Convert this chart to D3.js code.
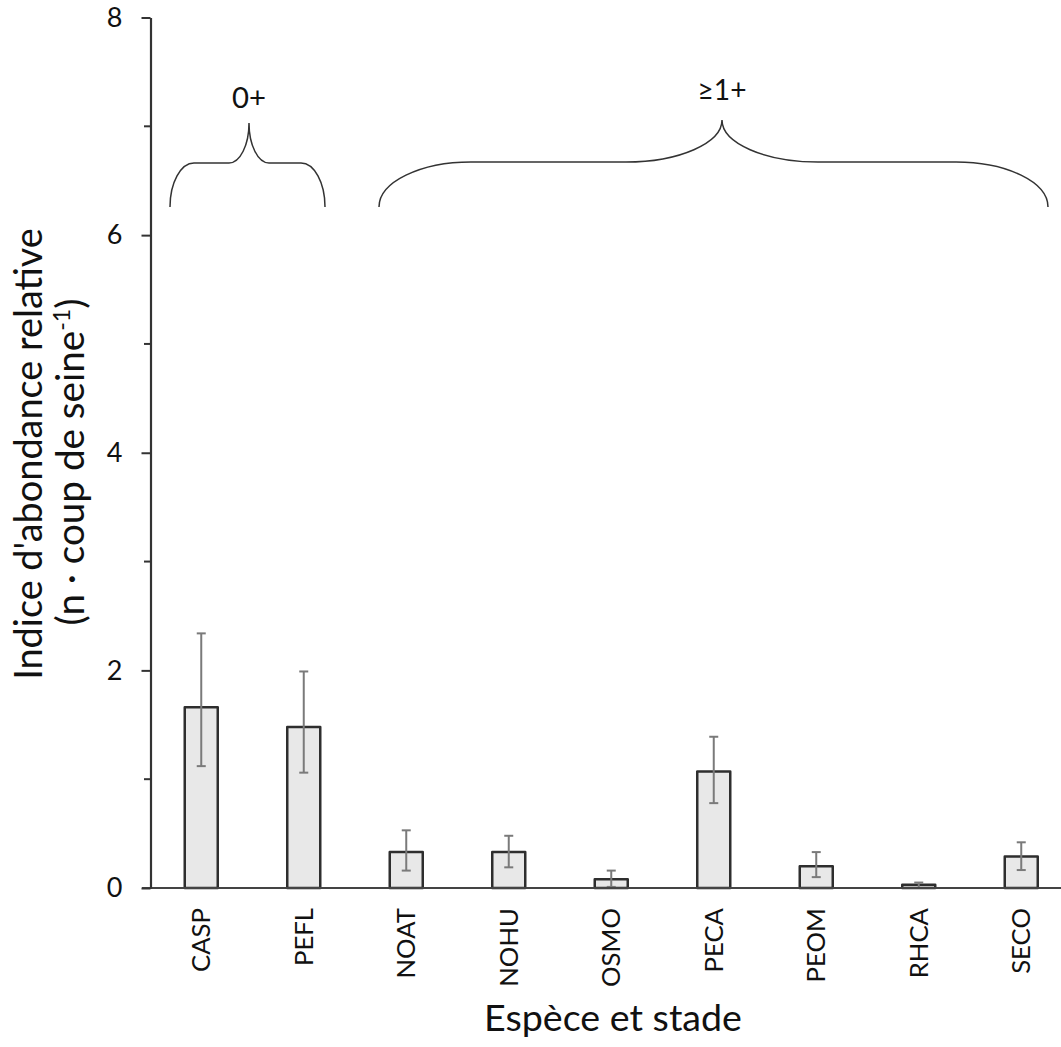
<!DOCTYPE html>
<html>
<head>
<meta charset="utf-8">
<script src="https://cdn.jsdelivr.net/npm/d3@7"></script>
<style>
  html, body { margin: 0; padding: 0; background: #fff; }
  text { font-family: Lato, "Open Sans", sans-serif; fill: #111; }
</style>
</head>
<body>
<svg id="chart" width="1061" height="1047"></svg>
<script>
// ---- data ----
const categories = ["CASP", "PEFL", "NOAT", "NOHU", "OSMO", "PECA", "PEOM", "RHCA", "SECO"];
const means      = [1.66, 1.48, 0.33, 0.33, 0.08, 1.07, 0.20, 0.03, 0.29];
const errLow     = [1.12, 1.06, 0.16, 0.19, 0.01, 0.78, 0.10, 0.00, 0.165];
const errHigh    = [2.34, 1.99, 0.53, 0.48, 0.16, 1.39, 0.33, 0.05, 0.42];
const majorTicks = [0, 2, 4, 6, 8];
const minorTicks = [1, 3, 5, 7];
const groupLabels = ["0+", "\u22651+"];

// ---- layout ----
const W = 1061, H = 1047;
const svg = d3.select("#chart");

const x = d3.scaleBand().domain(categories).range([150, 1072.5])
  .paddingInner(0.678).paddingOuter(0.339);
const y = d3.scaleLinear().domain([0, 8]).range([888, 17.5]);

function fit(sel, target) {
  sel.style("font-size", "30px");
  const w = sel.node().getComputedTextLength();
  const fs = 30 * target / w;
  sel.style("font-size", fs + "px");
  return fs;
}

// ---- bars ----
const data = categories.map((c, i) => ({ c, m: means[i], lo: errLow[i], hi: errHigh[i] }));

svg.append("g").selectAll("rect").data(data).join("rect")
  .attr("x", d => x(d.c))
  .attr("y", d => y(d.m))
  .attr("width", x.bandwidth())
  .attr("height", d => y(0) - y(d.m))
  .attr("fill", "#e8e8e8")
  .attr("stroke", "#2e2e2e")
  .attr("stroke-width", 2.5)
  .attr("stroke-linejoin", "round");

// ---- error bars ----
const eg = svg.append("g").attr("stroke", "#7a7a7a").attr("stroke-width", 2);
const cx = d => x(d.c) + x.bandwidth() / 2;
eg.selectAll(".v").data(data).join("line")
  .attr("x1", cx).attr("x2", cx)
  .attr("y1", d => y(d.lo)).attr("y2", d => y(d.hi));
eg.selectAll(".t").data(data).join("line")
  .attr("x1", d => cx(d) - 4.5).attr("x2", d => cx(d) + 4.5)
  .attr("y1", d => y(d.hi)).attr("y2", d => y(d.hi));
eg.selectAll(".b").data(data).join("line")
  .attr("x1", d => cx(d) - 4.5).attr("x2", d => cx(d) + 4.5)
  .attr("y1", d => y(d.lo)).attr("y2", d => y(d.lo));

// ---- x axis ----
const xAxis = svg.append("g")
  .attr("transform", `translate(0,${y(0)})`)
  .call(d3.axisBottom(x).tickSize(0).tickSizeOuter(0));
xAxis.select(".domain").attr("stroke", "#444").attr("stroke-width", 2.2)
  .attr("d", `M142,0H${W}`);
const catText = xAxis.selectAll(".tick text")
  .attr("transform", "rotate(-90)")
  .attr("x", -20).attr("y", 0).attr("dy", "0.35em")
  .attr("text-anchor", "end")
  .attr("fill", "#111")
  .style("font-family", null);
const catFs = fit(xAxis.selectAll(".tick text").filter(d => d === "CASP"), 64);
catText.style("font-size", catFs + "px");

// ---- y axis ----
const yAxis = svg.append("g").attr("transform", "translate(150.5,0)")
  .call(d3.axisLeft(y).tickValues(majorTicks).tickFormat(d3.format("d"))
    .tickSize(9).tickSizeOuter(0).tickPadding(19));
yAxis.select(".domain").attr("stroke", "#333").attr("stroke-width", 2.2);
yAxis.selectAll(".tick line").attr("stroke", "#333").attr("stroke-width", 2);
yAxis.selectAll(".tick text").style("font-size", "27px").style("font-family", null).attr("fill", "#222");
yAxis.selectAll(".minor").data(minorTicks).join("line")
  .attr("class", "minor")
  .attr("x1", -6.5).attr("x2", 0)
  .attr("y1", d => y(d)).attr("y2", d => y(d))
  .attr("stroke", "#333").attr("stroke-width", 2);

// ---- axis titles ----
const yt1 = svg.append("text")
  .attr("transform", "translate(42,454) rotate(-90)")
  .attr("text-anchor", "middle")
  .text("Indice d'abondance relative");
const yFs = fit(yt1, 452);

const yt2 = svg.append("text")
  .attr("transform", "translate(84,462) rotate(-90)")
  .attr("text-anchor", "middle")
  .style("font-size", (yFs * 1.02) + "px");
yt2.append("tspan").text("(n \u00B7 coup de seine");
yt2.append("tspan").attr("baseline-shift", "super").style("font-size", "60%").text("-1");
yt2.append("tspan").text(")");

const xt = svg.append("text")
  .attr("x", 613).attr("y", 1031)
  .attr("text-anchor", "middle")
  .text("Esp\u00E8ce et stade");
fit(xt, 258);

// ---- group braces (annotations) ----
function bracePath(xl, xr, xt, rxEnd, rxTip, yEnd, yh, yt) {
  const k = 0.552;
  return [
    `M${xl},${yEnd}`,
    `C${xl},${yEnd - k * (yEnd - yh)} ${xl + rxEnd * (1 - k)},${yh} ${xl + rxEnd},${yh}`,
    `L${xt - rxTip},${yh}`,
    `C${xt - rxTip * (1 - k)},${yh} ${xt},${yh - (1 - k) * (yh - yt)} ${xt},${yt}`,
    `C${xt},${yh - (1 - k) * (yh - yt)} ${xt + rxTip * (1 - k)},${yh} ${xt + rxTip},${yh}`,
    `L${xr - rxEnd},${yh}`,
    `C${xr - rxEnd * (1 - k)},${yh} ${xr},${yEnd - k * (yEnd - yh)} ${xr},${yEnd}`
  ].join(" ");
}
const braces = [
  { label: groupLabels[0], xl: 170, xr: 325, xt: 249, rxEnd: 24, rxTip: 20, yEnd: 207, yh: 163, yt: 123, ly: 108, lw: 34 },
  { label: groupLabels[1], xl: 379, xr: 1048, xt: 722, rxEnd: 92, rxTip: 96, yEnd: 207, yh: 162, yt: 120, ly: 100, lw: 49 }
];
braces.forEach(b => {
  svg.append("path")
    .attr("d", bracePath(b.xl, b.xr, b.xt, b.rxEnd, b.rxTip, b.yEnd, b.yh, b.yt))
    .attr("fill", "none").attr("stroke", "#333").attr("stroke-width", 1.5);
  const t = svg.append("text").attr("x", b.xt).attr("y", b.ly)
    .attr("text-anchor", "middle").text(b.label);
  fit(t, b.lw);
});
</script>
</body>
</html>
